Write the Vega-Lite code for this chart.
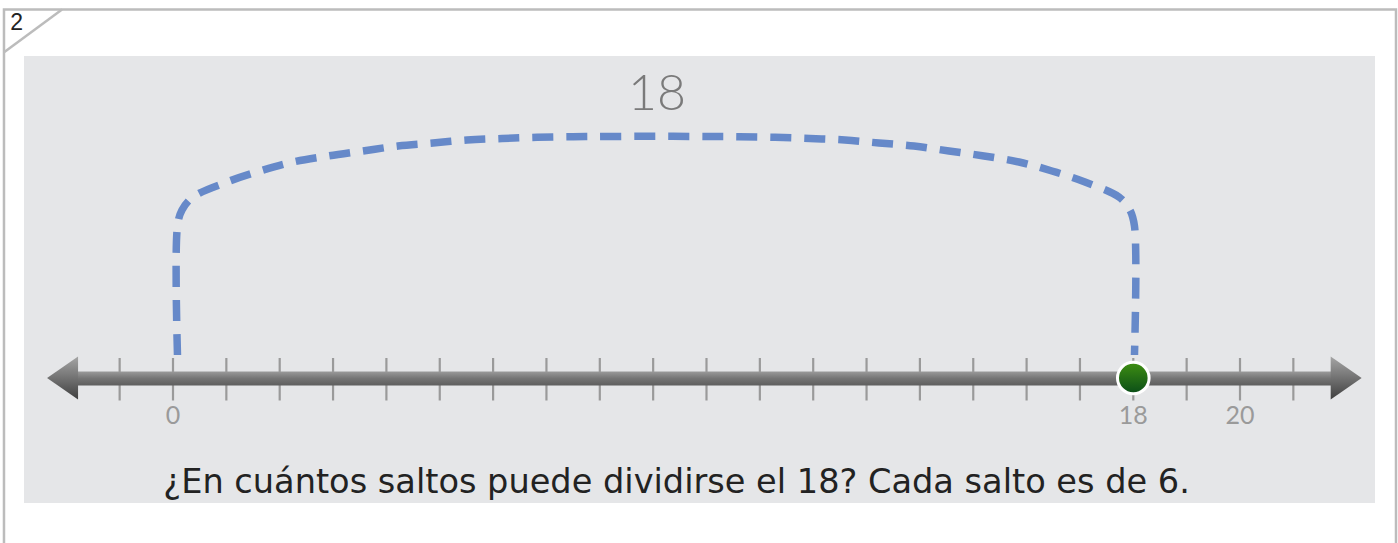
{
  "$schema": "https://vega.github.io/schema/vega-lite/v6.json",
  "width": 1398,
  "height": 543,
  "autosize": "none",
  "padding": 0,
  "background": "#ffffff",
  "config": {"view": {"stroke": null}, "axis": {"disable": true}},
  "datasets": {
    "ticks": [{"v":-1},{"v":0},{"v":1},{"v":2},{"v":3},{"v":4},{"v":5},{"v":6},{"v":7},{"v":8},{"v":9},{"v":10},{"v":11},{"v":12},{"v":13},{"v":14},{"v":15},{"v":16},{"v":17},{"v":18},{"v":19},{"v":20},{"v":21}],
    "labels": [{"v":0,"label":"0"},{"v":18,"label":"18"},{"v":20,"label":"20"}],
    "arc": [
      {"i":0,"x":0.084,"y":2.3},
      {"i":1,"x":0.084,"y":15.2},
      {"i":2,"x":0.169,"y":16.8},
      {"i":3,"x":0.375,"y":18.1},
      {"i":4,"x":1.012,"y":19.6},
      {"i":5,"x":1.631,"y":20.7},
      {"i":6,"x":2.249,"y":21.6},
      {"i":7,"x":2.905,"y":22.2},
      {"i":8,"x":3.561,"y":22.7},
      {"i":9,"x":4.217,"y":23.2},
      {"i":10,"x":4.873,"y":23.5},
      {"i":11,"x":5.511,"y":23.8},
      {"i":12,"x":6.167,"y":23.95},
      {"i":13,"x":6.823,"y":24.07},
      {"i":14,"x":7.498,"y":24.13},
      {"i":15,"x":8.135,"y":24.15},
      {"i":16,"x":9.053,"y":24.17},
      {"i":17,"x":9.972,"y":24.15},
      {"i":18,"x":10.608,"y":24.13},
      {"i":19,"x":11.283,"y":24.07},
      {"i":20,"x":11.939,"y":23.95},
      {"i":21,"x":12.595,"y":23.8},
      {"i":22,"x":13.233,"y":23.5},
      {"i":23,"x":13.889,"y":23.2},
      {"i":24,"x":14.545,"y":22.7},
      {"i":25,"x":15.201,"y":22.2},
      {"i":26,"x":15.857,"y":21.6},
      {"i":27,"x":16.475,"y":20.7},
      {"i":28,"x":17.094,"y":19.6},
      {"i":29,"x":17.731,"y":18.1},
      {"i":30,"x":17.937,"y":16.8},
      {"i":31,"x":18.022,"y":15.2},
      {"i":32,"x":18.022,"y":2.3}
    ],
    "one": [{"n":1}]
  },
  "layer": [
    {
      "data": {"name": "one"},
      "mark": {"type": "rect", "fill": "#ffffff", "stroke": "#bcbcbc", "strokeWidth": 2.5},
      "encoding": {
        "x": {"datum": -3.168, "type": "quantitative", "scale": {"domain": [-3.2427, 22.9616], "nice": false, "zero": false}},
        "x2": {"datum": 22.924},
        "y": {"datum": 36.85, "type": "quantitative", "scale": {"domain": [-16.5, 37.8], "nice": false, "zero": false}},
        "y2": {"datum": -20}
      }
    },
    {
      "data": {"name": "one"},
      "mark": {"type": "rule", "stroke": "#bcbcbc", "strokeWidth": 2.5},
      "encoding": {
        "x": {"datum": -3.16, "type": "quantitative"},
        "y": {"datum": 32.6, "type": "quantitative"},
        "x2": {"datum": -2.08},
        "y2": {"datum": 36.85}
      }
    },
    {
      "data": {"name": "one"},
      "mark": {"type": "text", "text": "2", "fontSize": 23, "font": "Liberation Sans", "color": "#222222", "align": "center", "baseline": "middle"},
      "encoding": {
        "x": {"datum": -2.93, "type": "quantitative"},
        "y": {"datum": 35.5, "type": "quantitative"}
      }
    },
    {
      "data": {"name": "one"},
      "mark": {"type": "rect", "fill": "#e5e6e8"},
      "encoding": {
        "x": {"datum": -2.793, "type": "quantitative"},
        "x2": {"datum": 22.53},
        "y": {"datum": 32.2, "type": "quantitative"},
        "y2": {"datum": -12.5}
      }
    },
    {
      "data": {"name": "ticks"},
      "mark": {"type": "rule", "stroke": "#9a9a9a", "strokeWidth": 2.2},
      "encoding": {
        "x": {"field": "v", "type": "quantitative"},
        "y": {"datum": 2.0, "type": "quantitative"},
        "y2": {"datum": -2.25}
      }
    },
    {
      "data": {"name": "one"},
      "mark": {"type": "rect", "fill": {"gradient": "linear", "x1": 0, "y1": 0, "x2": 0, "y2": 1, "stops": [{"offset": 0, "color": "#9a9a9a"}, {"offset": 0.5, "color": "#747474"}, {"offset": 1, "color": "#5e5e5e"}]}},
      "encoding": {
        "x": {"datum": -1.84, "type": "quantitative"},
        "x2": {"datum": 21.78},
        "y": {"datum": 0.65, "type": "quantitative"},
        "y2": {"datum": -0.75}
      }
    },
    {
      "data": {"name": "one"},
      "mark": {"type": "point", "filled": true, "opacity": 1, "shape": "M-0.72,0L0.72,-1L0.72,1Z", "size": 1849, "fill": {"gradient": "linear", "x1": 0, "y1": 0, "x2": 0, "y2": 1, "stops": [{"offset": 0, "color": "#a5a5a5"}, {"offset": 1, "color": "#3f3f3f"}]}},
      "encoding": {
        "x": {"datum": -2.07, "type": "quantitative"},
        "y": {"datum": 0, "type": "quantitative"}
      }
    },
    {
      "data": {"name": "one"},
      "mark": {"type": "point", "filled": true, "opacity": 1, "shape": "M0.72,0L-0.72,-1L-0.72,1Z", "size": 1849, "fill": {"gradient": "linear", "x1": 0, "y1": 0, "x2": 0, "y2": 1, "stops": [{"offset": 0, "color": "#a5a5a5"}, {"offset": 1, "color": "#3f3f3f"}]}},
      "encoding": {
        "x": {"datum": 21.99, "type": "quantitative"},
        "y": {"datum": 0, "type": "quantitative"}
      }
    },
    {
      "data": {"name": "labels"},
      "mark": {"type": "text", "fontSize": 25, "font": "Lato", "color": "#9a9a9a", "align": "center", "baseline": "middle"},
      "encoding": {
        "x": {"field": "v", "type": "quantitative"},
        "y": {"datum": -3.75, "type": "quantitative"},
        "text": {"field": "label"}
      }
    },
    {
      "data": {"name": "arc"},
      "mark": {"type": "line", "stroke": "#6689c9", "strokeWidth": 7.5, "strokeDash": [21, 13], "interpolate": "catmull-rom"},
      "encoding": {
        "x": {"field": "x", "type": "quantitative"},
        "y": {"field": "y", "type": "quantitative"},
        "order": {"field": "i"}
      }
    },
    {
      "data": {"name": "one"},
      "mark": {"type": "text", "text": "18", "fontSize": 50, "font": "Lato", "fontWeight": 300, "color": "#7a7a7a", "align": "center", "baseline": "middle"},
      "encoding": {
        "x": {"datum": 9.07, "type": "quantitative"},
        "y": {"datum": 28.3, "type": "quantitative"}
      }
    },
    {
      "data": {"name": "one"},
      "mark": {"type": "point", "filled": true, "opacity": 1, "shape": "circle", "size": 1000, "stroke": "#ffffff", "strokeWidth": 3, "fill": {"gradient": "linear", "x1": 0, "y1": 0, "x2": 0, "y2": 1, "stops": [{"offset": 0, "color": "#3f8f12"}, {"offset": 1, "color": "#0a4d18"}]}},
      "encoding": {
        "x": {"datum": 18, "type": "quantitative"},
        "y": {"datum": 0, "type": "quantitative"}
      }
    },
    {
      "data": {"name": "one"},
      "mark": {"type": "text", "text": "¿En cuántos saltos puede dividirse el 18? Cada salto es de 6.", "fontSize": 33.6, "font": "DejaVu Sans", "color": "#222222", "align": "center", "baseline": "middle"},
      "encoding": {
        "x": {"datum": 9.44, "type": "quantitative"},
        "y": {"datum": -10.5, "type": "quantitative"}
      }
    }
  ]
}
